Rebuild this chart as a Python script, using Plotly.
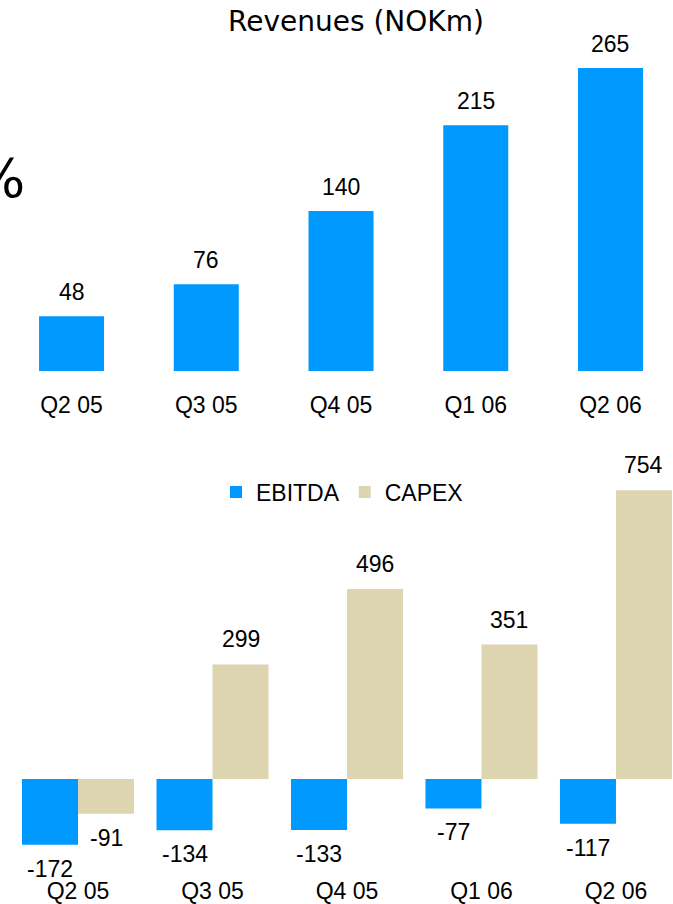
import plotly.graph_objects as go

# Quarterly figures, NOK millions
quarters = ["Q2 05", "Q3 05", "Q4 05", "Q1 06", "Q2 06"]
revenues = [48, 76, 140, 215, 265]
ebitda = [-172, -134, -133, -77, -117]
capex = [-91, 299, 496, 351, 754]

BLUE = "#0099FF"
BEIGE = "#DDD4B0"
LABEL_FONT = dict(family="Liberation Sans, Arial, sans-serif", size=23, color="#000000")

W, H = 673, 904
top_w = 0.4825      # revenue bar width (category units)
grp_w = 0.4164      # width of each bar in the EBITDA/CAPEX pair

fig = go.Figure()

# Revenues
fig.add_trace(go.Bar(
    x=quarters, y=revenues, width=top_w, offset=-top_w / 2,
    marker=dict(color=BLUE, line=dict(width=0)),
    showlegend=False, xaxis="x", yaxis="y", hoverinfo="skip",
))

# EBITDA and CAPEX side by side
fig.add_trace(go.Bar(
    x=quarters, y=ebitda, name="EBITDA", width=grp_w, offset=-grp_w,
    marker=dict(color=BLUE, line=dict(width=0)),
    xaxis="x2", yaxis="y2", hoverinfo="skip",
))
fig.add_trace(go.Bar(
    x=quarters, y=capex, name="CAPEX", width=grp_w, offset=0,
    marker=dict(color=BEIGE, line=dict(width=0)),
    xaxis="x2", yaxis="y2", hoverinfo="skip",
))

annotations = []
for i, v in enumerate(revenues):
    annotations.append(dict(
        x=i, y=v, xref="x", yref="y", text=str(v), showarrow=False,
        yanchor="bottom", yshift=9, font=LABEL_FONT,
    ))
for series, dx in ((ebitda, -grp_w / 2), (capex, grp_w / 2)):
    for i, v in enumerate(series):
        annotations.append(dict(
            x=i + dx, y=v, xref="x2", yref="y2", text=str(v), showarrow=False,
            yanchor="bottom" if v >= 0 else "top",
            yshift=10 if v >= 0 else -9, font=LABEL_FONT,
        ))

annotations.append(dict(
    x=356 / W, y=1 - 22 / H, xref="paper", yref="paper",
    text="Revenues (NOKm)", showarrow=False, xanchor="center", yanchor="middle",
    font=dict(family="DejaVu Sans, Verdana, sans-serif", size=28, color="#000000"),
))
annotations.append(dict(
    x=27 / W, y=1 - 178 / H, xref="paper", yref="paper",
    text="%", showarrow=False, xanchor="right", yanchor="middle",
    font=dict(family="DejaVu Sans, sans-serif", size=54, color="#000000"),
))

axis_common = dict(showgrid=False, zeroline=False, showline=False, ticks="",
                   tickfont=LABEL_FONT)

fig.update_layout(
    width=W, height=H,
    margin=dict(l=0, r=0, t=0, b=0),
    paper_bgcolor="#FFFFFF", plot_bgcolor="#FFFFFF",
    barmode="overlay",
    xaxis=dict(domain=[0, 1], range=[-0.531, 4.464], anchor="y", **axis_common),
    yaxis=dict(domain=[1 - 389 / H, 1 - 40 / H], range=[-15.7, 289.6],
               anchor="x", showticklabels=False, showgrid=False,
               zeroline=False, showline=False),
    xaxis2=dict(domain=[0, 1], range=[-0.580, 4.424], anchor="y2", **axis_common),
    yaxis2=dict(domain=[1 - 875 / H, 1 - 470 / H], range=[-250.7, 806.8],
                anchor="x2", showticklabels=False, showgrid=False,
                zeroline=False, showline=False),
    legend=dict(orientation="h", x=216 / W, xanchor="left",
                y=1 - 492 / H, yanchor="middle",
                font=LABEL_FONT, bgcolor="rgba(0,0,0,0)"),
    annotations=annotations,
)

fig.write_html("out.html")
